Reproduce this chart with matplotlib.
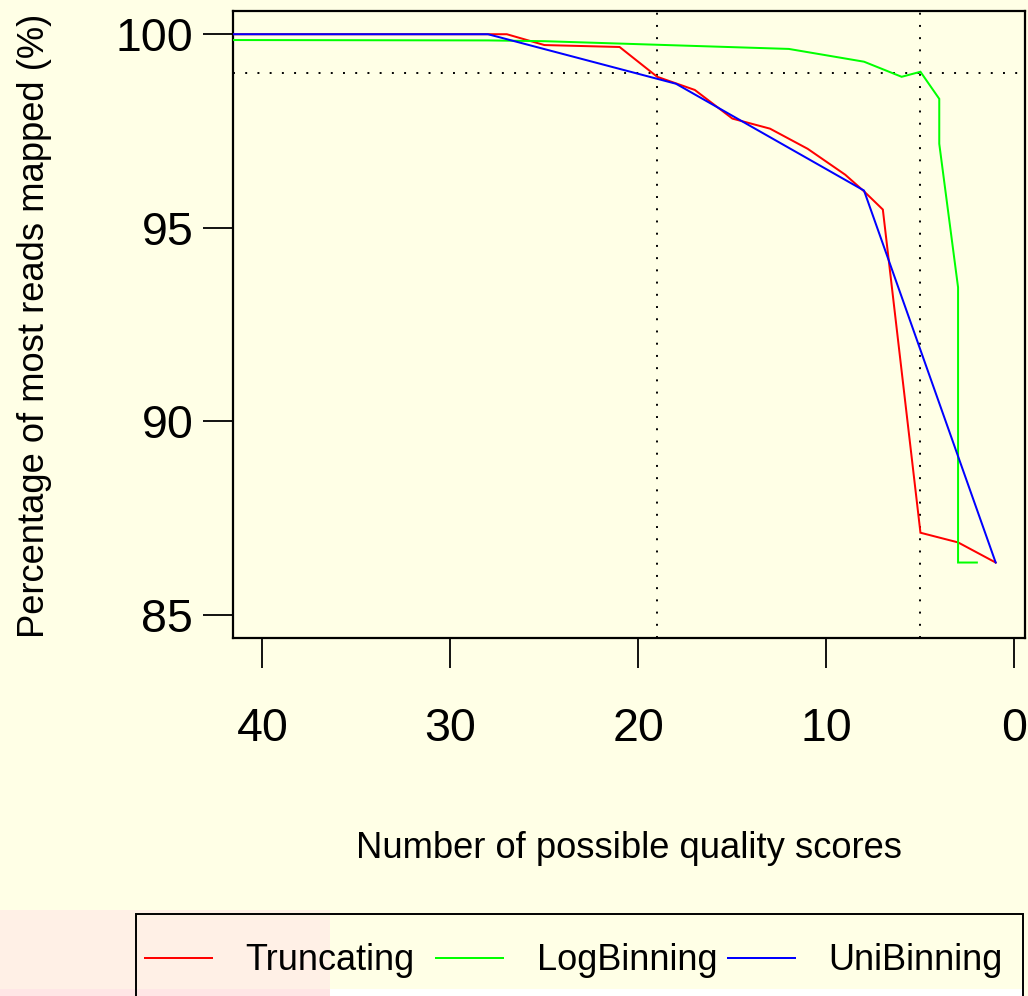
import matplotlib
matplotlib.use("Agg")
import matplotlib.pyplot as plt
from matplotlib.patches import Rectangle
from matplotlib.lines import Line2D

plt.rcParams['font.family'] = ['Liberation Sans', 'DejaVu Sans']
plt.rcParams['lines.scale_dashes'] = False

# ---- data ----
trunc_x = [42, 27, 25, 21, 19, 17, 15, 13, 11, 9, 8, 7, 5, 3, 1]
trunc_y = [100.0, 100.0, 99.72, 99.67, 98.9, 98.56, 97.82, 97.56, 97.04, 96.37, 95.94, 95.47, 87.12, 86.87, 86.35]

log_x = [42, 28, 25, 12, 8, 6, 5, 4, 4, 3, 3, 2]
log_y = [99.85, 99.84, 99.82, 99.62, 99.29, 98.9, 99.03, 98.33, 97.17, 93.46, 86.35, 86.35]

uni_x = [42, 28, 18, 8, 1]
uni_y = [100.0, 100.0, 98.72, 95.96, 86.35]

series_names = ["Truncating", "LogBinning", "UniBinning"]
series_colors = ["#FF0000", "#00FF00", "#0000FF"]

x_ticks = [40, 30, 20, 10, 0]
y_ticks = [85, 90, 95, 100]
ref_x = [19, 5]
ref_y = [99.0]

xlabel = "Number of possible quality scores"
ylabel = "Percentage of most reads mapped (%)"

# ---- figure ----
W, H = 1028, 996
bg = "#FFFFE6"
fig = plt.figure(figsize=(W / 100, H / 100), dpi=100, facecolor=bg)

def fx(px):
    return px / W

def fy(py):
    return 1 - py / H

ax = fig.add_axes([fx(233), fy(638), fx(1025) - fx(233), fy(11) - fy(638)])
ax.set_facecolor(bg)

lw = 2 * 0.72
for xs, ys, c in zip([trunc_x, log_x, uni_x], [trunc_y, log_y, uni_y], series_colors):
    ax.plot(xs, ys, color=c, lw=lw, solid_joinstyle='miter', zorder=3)

dot_style = dict(color='black', lw=1.4, linestyle=(0, (1.4, 7.4)), zorder=2)
for xv in ref_x:
    ax.axvline(xv, **dot_style)
for yv in ref_y:
    ax.axhline(yv, **dot_style)

ax.set_xlim(41.56, -0.56)
ax.set_ylim(84.4, 100.6)
ax.set_xticks(x_ticks)
ax.set_yticks(y_ticks)
ax.set_xticklabels([str(t) for t in x_ticks])
ax.set_yticklabels([str(t) for t in y_ticks])

for s in ax.spines.values():
    s.set_linewidth(1.6)
    s.set_color('black')

ax.tick_params(axis='both', direction='out', length=21.6, width=1.3, colors='black',
               labelsize=33.5)
ax.tick_params(axis='x', pad=28)
ax.tick_params(axis='y', pad=7)

ax.set_xlabel(xlabel, fontsize=26.2)
ax.set_ylabel(ylabel, fontsize=26.2)
ax.xaxis.set_label_coords(fx(629), fy(848), transform=fig.transFigure)
ax.xaxis.label.set_va('center')
ax.yaxis.set_label_coords(fx(35), fy(326), transform=fig.transFigure)
ax.yaxis.label.set_va('center')

# ---- overlay artefacts at the bottom ----
fig.patches.append(Rectangle((fx(0), fy(989)), fx(330), fy(910) - fy(989),
                             transform=fig.transFigure, facecolor="#FFF0E6",
                             edgecolor='none', zorder=1))
fig.patches.append(Rectangle((fx(0), fy(996)), fx(330), fy(989) - fy(996),
                             transform=fig.transFigure, facecolor="#FFE6E6",
                             edgecolor='none', zorder=1))
fig.patches.append(Rectangle((fx(330), fy(996)), fx(1023) - fx(330), fy(989) - fy(996),
                             transform=fig.transFigure, facecolor="#FFFFFF",
                             edgecolor='none', zorder=1))

# ---- legend ----
fig.patches.append(Rectangle((fx(136), fy(1010)), fx(1023) - fx(136), fy(914) - fy(1010),
                             transform=fig.transFigure, facecolor='none',
                             edgecolor='black', lw=1.4, zorder=2))
handle_x = [(145, 212), (436, 503), (728, 795)]
text_x = [245, 537, 828]
for (h0, h1), tx, name, c in zip(handle_x, text_x, series_names, series_colors):
    fig.lines.append(Line2D([fx(h0), fx(h1)], [fy(958), fy(958)], transform=fig.transFigure,
                            color=c, lw=lw, zorder=3))
    fig.text(fx(tx), fy(970), name, fontsize=26, ha='left', va='baseline', zorder=3)

fig.savefig("out.png", dpi=100, facecolor=bg)
